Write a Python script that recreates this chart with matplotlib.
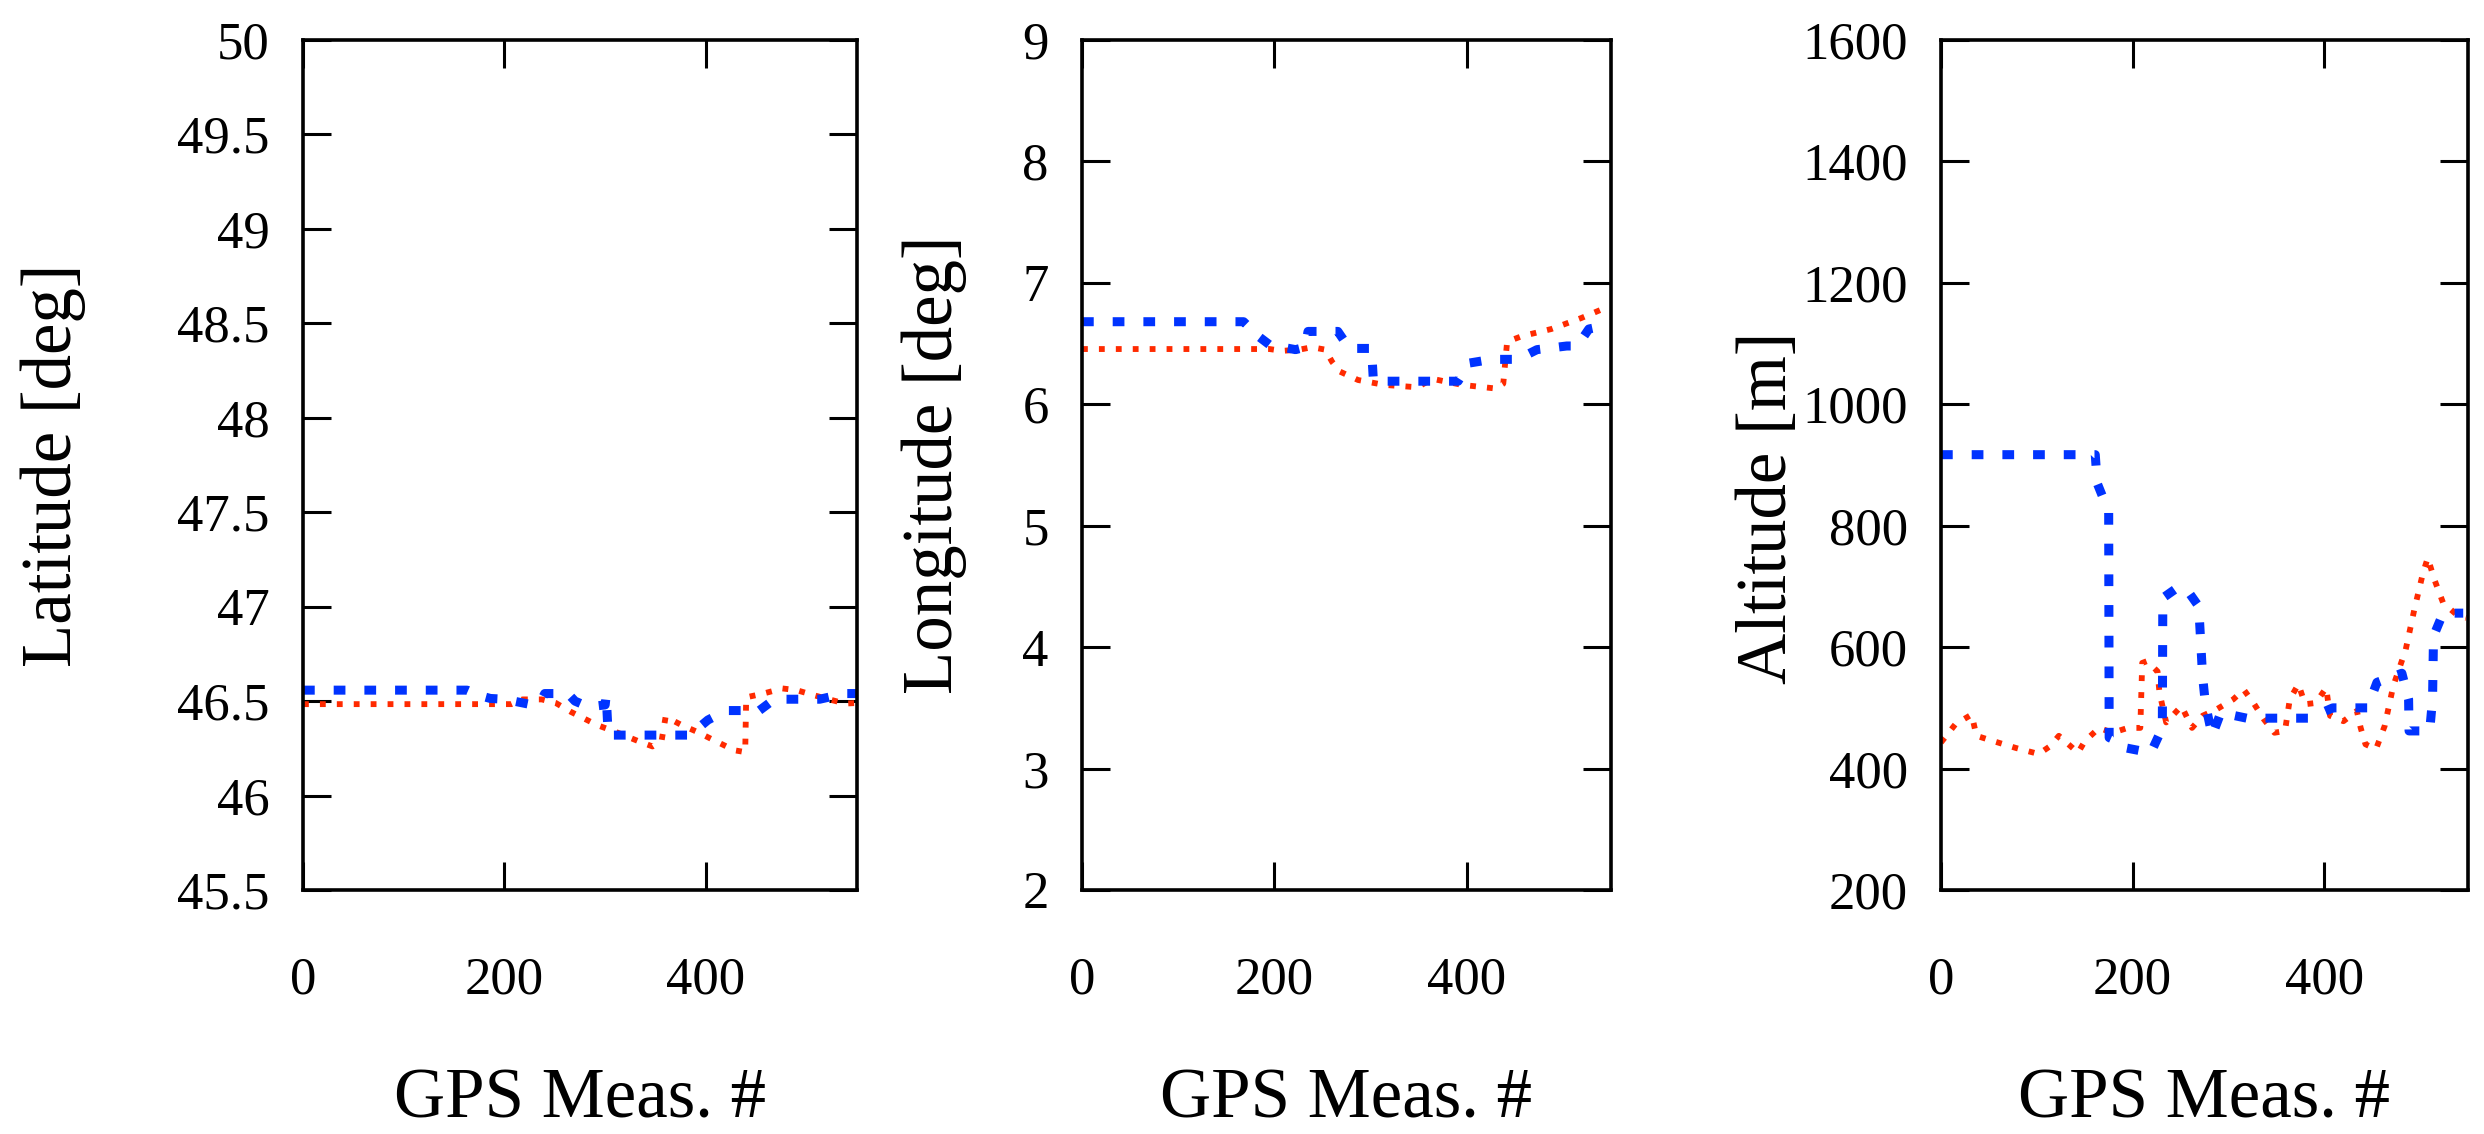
import matplotlib
matplotlib.use("Agg")
import matplotlib.pyplot as plt

plt.rcParams['font.family'] = ['Liberation Serif', 'DejaVu Serif']

# blue dashed series (x, y) and red dotted series (x, y) per panel
lat_blue_x = [0, 163, 175, 186, 200, 224, 236, 240, 263, 270, 281, 292, 300, 301, 303, 358, 384,
              402, 420, 453, 468, 494, 513, 538, 550]
lat_blue_y = [46.558, 46.558, 46.53, 46.514, 46.51, 46.484, 46.50, 46.54, 46.54, 46.50, 46.475,
              46.475, 46.48, 46.53, 46.32, 46.32, 46.32, 46.40, 46.45, 46.45, 46.51, 46.51, 46.51,
              46.54, 46.54]
lat_red_x = [0, 207, 218, 237, 251, 266, 292, 310, 332, 347, 356, 360, 376, 391, 409, 428, 439,
             440, 457, 476, 490, 508, 538, 550]
lat_red_y = [46.484, 46.484, 46.509, 46.509, 46.49, 46.443, 46.373, 46.338, 46.29, 46.26, 46.29,
             46.417, 46.373, 46.338, 46.29, 46.24, 46.23, 46.52, 46.54, 46.567, 46.558, 46.53,
             46.487, 46.49]

lon_blue_x = [0, 168, 184, 195, 222, 232, 235, 266, 278, 301, 303, 391, 403, 426, 453, 473, 504,
              515, 527, 545]
lon_blue_y = [6.68, 6.68, 6.556, 6.49, 6.45, 6.47, 6.60, 6.60, 6.46, 6.46, 6.19, 6.19, 6.34, 6.37,
              6.37, 6.45, 6.48, 6.48, 6.62, 6.65]
lon_red_x = [0, 195, 208, 226, 239, 253, 260, 268, 287, 314, 349, 364, 395, 430, 438, 442, 457,
             488, 519, 540, 548]
lon_red_y = [6.455, 6.455, 6.44, 6.45, 6.47, 6.45, 6.35, 6.27, 6.20, 6.16, 6.14, 6.21, 6.16, 6.13,
             6.17, 6.515, 6.56, 6.62, 6.71, 6.78, 6.80]

alt_blue_x = [0, 161, 163, 175, 175.5, 184, 193, 219, 231, 231.5, 245, 256, 269, 273, 276, 283,
              292, 319, 384, 409, 445, 455, 481, 488, 488.5, 510, 513, 514, 524, 545]
alt_blue_y = [917, 917, 870, 823, 451, 445, 434, 426, 467, 681, 696, 696, 667, 552, 506, 454, 492,
              483, 483, 500, 500, 542, 557, 514, 462, 462, 514, 618, 656, 656]
alt_red_x = [0, 15, 32, 37, 51, 78, 102, 114, 123, 143, 150, 165, 179, 195, 208, 210, 215, 226,
             228, 235, 251, 262, 273, 287, 305, 316, 327, 337, 348, 359, 364, 373, 380, 391, 402,
             406, 420, 434, 438, 443, 454, 463, 472, 485, 494, 503, 508, 515, 524, 540, 548]
alt_red_y = [443, 473, 489, 454, 447, 434, 424, 437, 454, 426, 445, 467, 459, 467, 467, 574, 577,
             560, 525, 476, 503, 467, 487, 497, 514, 530, 506, 481, 459, 462, 514, 539, 506, 508,
             533, 487, 478, 495, 467, 440, 432, 470, 536, 596, 662, 722, 747, 711, 673, 651, 648]

x_ticks = [0, 200, 400]
lat_ticks = [45.5, 46, 46.5, 47, 47.5, 48, 48.5, 49, 49.5, 50]
lat_labels = ['45.5', '46', '46.5', '47', '47.5', '48', '48.5', '49', '49.5', '50']
lon_ticks = [2, 3, 4, 5, 6, 7, 8, 9]
alt_ticks = [200, 400, 600, 800, 1000, 1200, 1400, 1600]

ylabels = ['Latitude [deg]', 'Longitude [deg]', 'Altitude [m]']
xlabel = 'GPS Meas. #'

W, H = 2484, 1134
fig = plt.figure(figsize=(W / 100, H / 100), dpi=100)

top, bottom = 40, 890
panels = [
    (303, 857, lat_blue_x, lat_blue_y, lat_red_x, lat_red_y, lat_ticks, lat_labels, 53, 0.5),
    (1082, 1611, lon_blue_x, lon_blue_y, lon_red_x, lon_red_y, lon_ticks,
     [str(t) for t in lon_ticks], 934, 0.5),
    (1941, 2468, alt_blue_x, alt_blue_y, alt_red_x, alt_red_y, alt_ticks,
     [str(t) for t in alt_ticks], 1768, 0.45),
]

blue = '#0033ff'
red = '#ff2a00'

for i, (l, r, bx, by, rx, ry, yt, ytl, ylab_x, ylab_frac) in enumerate(panels):
    ax = fig.add_axes([l / W, 1 - bottom / H, (r - l) / W, (bottom - top) / H])
    ax.plot(rx, ry, color=red, lw=4.2, linestyle=(0, (1.0, 1.9)))
    ax.plot(bx, by, color=blue, lw=6.5, linestyle=(0, (1.3, 2.1)))
    ax.set_xlim(0, 550)
    ax.set_ylim(yt[0], yt[-1])
    ax.set_xticks(x_ticks)
    ax.set_xticklabels([str(t) for t in x_ticks])
    ax.set_yticks(yt)
    ax.set_yticklabels(ytl)
    ax.tick_params(axis='both', direction='in', length=20, width=2.2, labelsize=38,
                   top=True, right=True)
    ax.tick_params(axis='x', pad=48)
    ax.tick_params(axis='y', pad=24)
    for s in ax.spines.values():
        s.set_linewidth(2.6)
    # axis labels placed by pixel position
    fig.text(ylab_x / W, 1 - (bottom - ylab_frac * (bottom - top)) / H, ylabels[i],
             rotation=90, ha='center', va='center', fontsize=51)
    fig.text((l + r) / 2 / W, 1 - 1118 / H, xlabel, ha='center', va='baseline', fontsize=51)

fig.savefig('out.png', dpi=100)
